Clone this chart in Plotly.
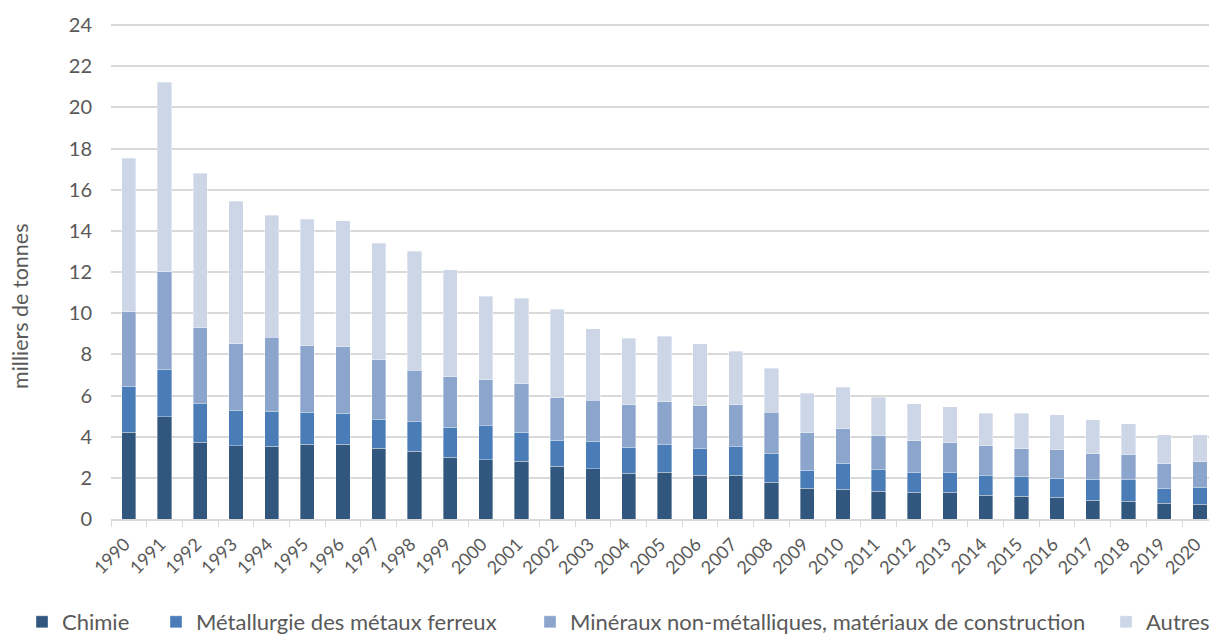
import plotly.graph_objects as go

years = [str(y) for y in range(1990, 2021)]
chimie = [4.21, 4.98, 3.72, 3.56, 3.53, 3.64, 3.64, 3.43, 3.28, 2.99,
          2.87, 2.80, 2.56, 2.45, 2.22, 2.27, 2.12, 2.12, 1.78, 1.49,
          1.44, 1.35, 1.30, 1.30, 1.15, 1.10, 1.05, 0.91, 0.86, 0.76, 0.71]
metallurgie = [2.23, 2.29, 1.88, 1.72, 1.70, 1.54, 1.49, 1.41, 1.44, 1.48,
               1.66, 1.41, 1.26, 1.32, 1.26, 1.34, 1.31, 1.39, 1.39, 0.87,
               1.27, 1.07, 0.97, 0.97, 0.94, 0.98, 0.93, 1.02, 1.05, 0.73, 0.83]
mineraux = [3.64, 4.75, 3.70, 3.23, 3.59, 3.23, 3.24, 2.89, 2.51, 2.44,
            2.24, 2.36, 2.07, 2.00, 2.07, 2.09, 2.08, 2.04, 2.01, 1.83,
            1.68, 1.63, 1.54, 1.43, 1.48, 1.34, 1.38, 1.25, 1.22, 1.19, 1.25]
autres = [7.44, 9.19, 7.51, 6.94, 5.95, 6.15, 6.11, 5.67, 5.78, 5.19,
          4.06, 4.15, 4.30, 3.48, 3.24, 3.19, 3.01, 2.61, 2.14, 1.93,
          2.00, 1.87, 1.80, 1.75, 1.57, 1.72, 1.70, 1.64, 1.49, 1.41, 1.31]

series = [
    ("Chimie", chimie, "#32577f"),
    ("Métallurgie des métaux ferreux", metallurgie, "#4a7db7"),
    ("Minéraux non-métalliques, matériaux de construction", mineraux, "#8ba5cd"),
    ("Autres", autres, "#cdd6e6"),
]
legend_ids = ["legend", "legend2", "legend3", "legend4"]

FONT = "Lato"
OFF = 8                      # page body margin offset
W, H = 1217 - OFF, 639 - OFF
PLOT_L, PLOT_T, PLOT_B = 111 - OFF, 24 - OFF, 519 - OFF
legend_sym_x = [42, 176, 550, 1126]   # screen x of legend squares
LEG_Y = 622                            # screen y of legend row

fig = go.Figure()
for (name, vals, col), lid in zip(series, legend_ids):
    fig.add_trace(go.Bar(
        x=years, y=vals, name=name, legend=lid,
        marker=dict(color=col, line=dict(color="rgba(255,255,255,0.6)", width=0.6)),
    ))

legend_layout = {}
for lid, sx in zip(legend_ids, legend_sym_x):
    legend_layout[lid] = dict(
        orientation="h", xref="container", yref="container",
        x=(sx - OFF - 20) / W, xanchor="left",
        y=(H - (LEG_Y - OFF)) / H, yanchor="middle",
        font=dict(family=FONT, size=22, color="#595959"),
        itemwidth=30, bgcolor="rgba(0,0,0,0)", borderwidth=0,
    )

fig.update_layout(
    barmode="stack",
    bargap=0.6,
    width=W, height=H,
    margin=dict(l=PLOT_L, r=0, t=PLOT_T, b=H - PLOT_B),
    plot_bgcolor="white", paper_bgcolor="white",
    font=dict(family=FONT, color="#595959", size=16),
    showlegend=True,
    xaxis=dict(
        type="category", tickangle=-45, range=[-0.5, 30.48], automargin=False,
        showgrid=False, showline=True, linecolor="#d9d9d9", linewidth=1.5,
        ticks="outside", tickson="boundaries", ticklen=6, tickcolor="#d9d9d9",
        tickfont=dict(size=18, color="#595959"),
        ticklabelstandoff=6, ticklabelshift=-4,
    ),
    yaxis=dict(
        range=[0, 24.05], dtick=2, showgrid=True, gridcolor="#d9d9d9", gridwidth=1.5,
        zeroline=False, tickfont=dict(size=20, color="#595959"), automargin=False,
        ticks="", ticklabelstandoff=18,
    ),
    annotations=[dict(
        text="milliers de tonnes", textangle=-90, showarrow=False,
        xref="paper", yref="paper", x=0, xshift=-(111 - 20), xanchor="center",
        y=(519 - 307) / 495, yanchor="middle",
        font=dict(family=FONT, size=21.5, color="#595959"),
    )],
    **legend_layout,
)

fig.write_html("out.html")
